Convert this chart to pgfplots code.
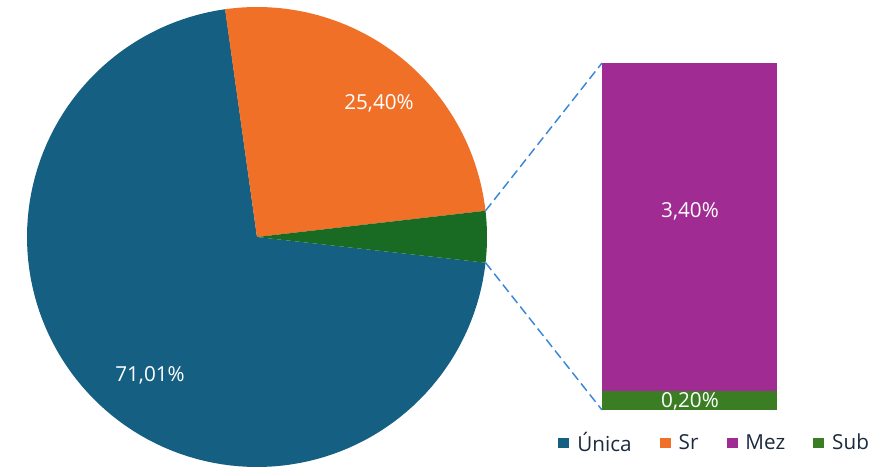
\documentclass[border=0pt]{standalone}
\usepackage{fontspec}
\setmainfont{Open Sans}
\usepackage{pgfplots}
\pgfplotsset{compat=1.18}

\definecolor{cUnica}{HTML}{156082}
\definecolor{cSr}{HTML}{F07028}
\definecolor{cOutro}{HTML}{196B24}
\definecolor{cMez}{HTML}{A02B93}
\definecolor{cSub}{HTML}{3B7D23}
\definecolor{cLinha}{HTML}{3A87D8}
\definecolor{cTexto}{HTML}{1B2A3E}

\begin{document}
\begin{tikzpicture}
% percentuais
\def\pUnica{71.01}
\def\pSr{25.40}
\def\pMez{3.40}
\def\pSub{0.20}
\pgfmathsetmacro{\pOutro}{\pMez+\pSub}
% angulos (graus) da pizza
\pgfmathsetmacro{\aA}{97.95}
\pgfmathsetmacro{\aB}{\aA+3.6*\pUnica}
\pgfmathsetmacro{\aC}{\aB+3.6*\pOutro}
\pgfmathsetmacro{\aD}{\aC+3.6*\pSr}
% barra: base 58, altura 347 para o total "outros"
\pgfmathsetmacro{\yMeio}{58+347*\pSub/\pOutro}
\begin{axis}[
    width=659.25pt, height=351pt, scale only axis,
    xmin=0, xmax=879, ymin=0, ymax=468,
    hide axis, clip=false,
    font=\fontsize{15.5}{18}\selectfont,
    legend image code/.code={\fill[#1] (0pt,-4.1pt) rectangle (8.25pt,4.1pt);},
    legend columns=4,
    legend style={at={(axis cs:715,25)}, anchor=center, draw=none, fill=none,
        text=cTexto, font=\fontsize{15.5}{18}\selectfont,
        /tikz/every odd column/.append style={column sep=4pt},
        /tikz/every even column/.append style={column sep=19pt}},
]
\path (rel axis cs:0,0) rectangle (rel axis cs:1,1);
\addplot[fill=cUnica, draw=none, domain=\aA:\aB, samples=120, variable=\t]
    ({257+230*cos(t)}, {231+230*sin(t)}) -- (257,231) -- cycle;
\addlegendentry{Única}
\addplot[fill=cSr, draw=none, domain=\aC:\aD, samples=60, variable=\t]
    ({257+230*cos(t)}, {231+230*sin(t)}) -- (257,231) -- cycle;
\addlegendentry{Sr}
\addplot[fill=cOutro, draw=none, domain=\aB:\aC, samples=20, variable=\t, forget plot]
    ({257+230*cos(t)}, {231+230*sin(t)}) -- (257,231) -- cycle;
\addplot[fill=cMez, draw=none] coordinates {(602,\yMeio) (777,\yMeio) (777,405) (602,405)} -- cycle;
\addlegendentry{Mez}
\addplot[fill=cSub, draw=none] coordinates {(602,58) (777,58) (777,\yMeio) (602,\yMeio)} -- cycle;
\addlegendentry{Sub}
\addplot[cLinha, line width=1.1pt, dash pattern=on 7pt off 3.5pt, forget plot]
    coordinates {({257+230*cos(\aC)},{231+230*sin(\aC)}) (602,405)};
\addplot[cLinha, line width=1.1pt, dash pattern=on 7pt off 3.5pt, forget plot]
    coordinates {({257+230*cos(\aB)},{231+230*sin(\aB)}) (602,58)};
\node[white] at (axis cs:379,365) {25,40\%};
\node[white] at (axis cs:150,93) {71,01\%};
\node[white] at (axis cs:690,257) {3,40\%};
\node[white] at (axis cs:690,67) {0,20\%};
\end{axis}
\end{tikzpicture}
\end{document}
